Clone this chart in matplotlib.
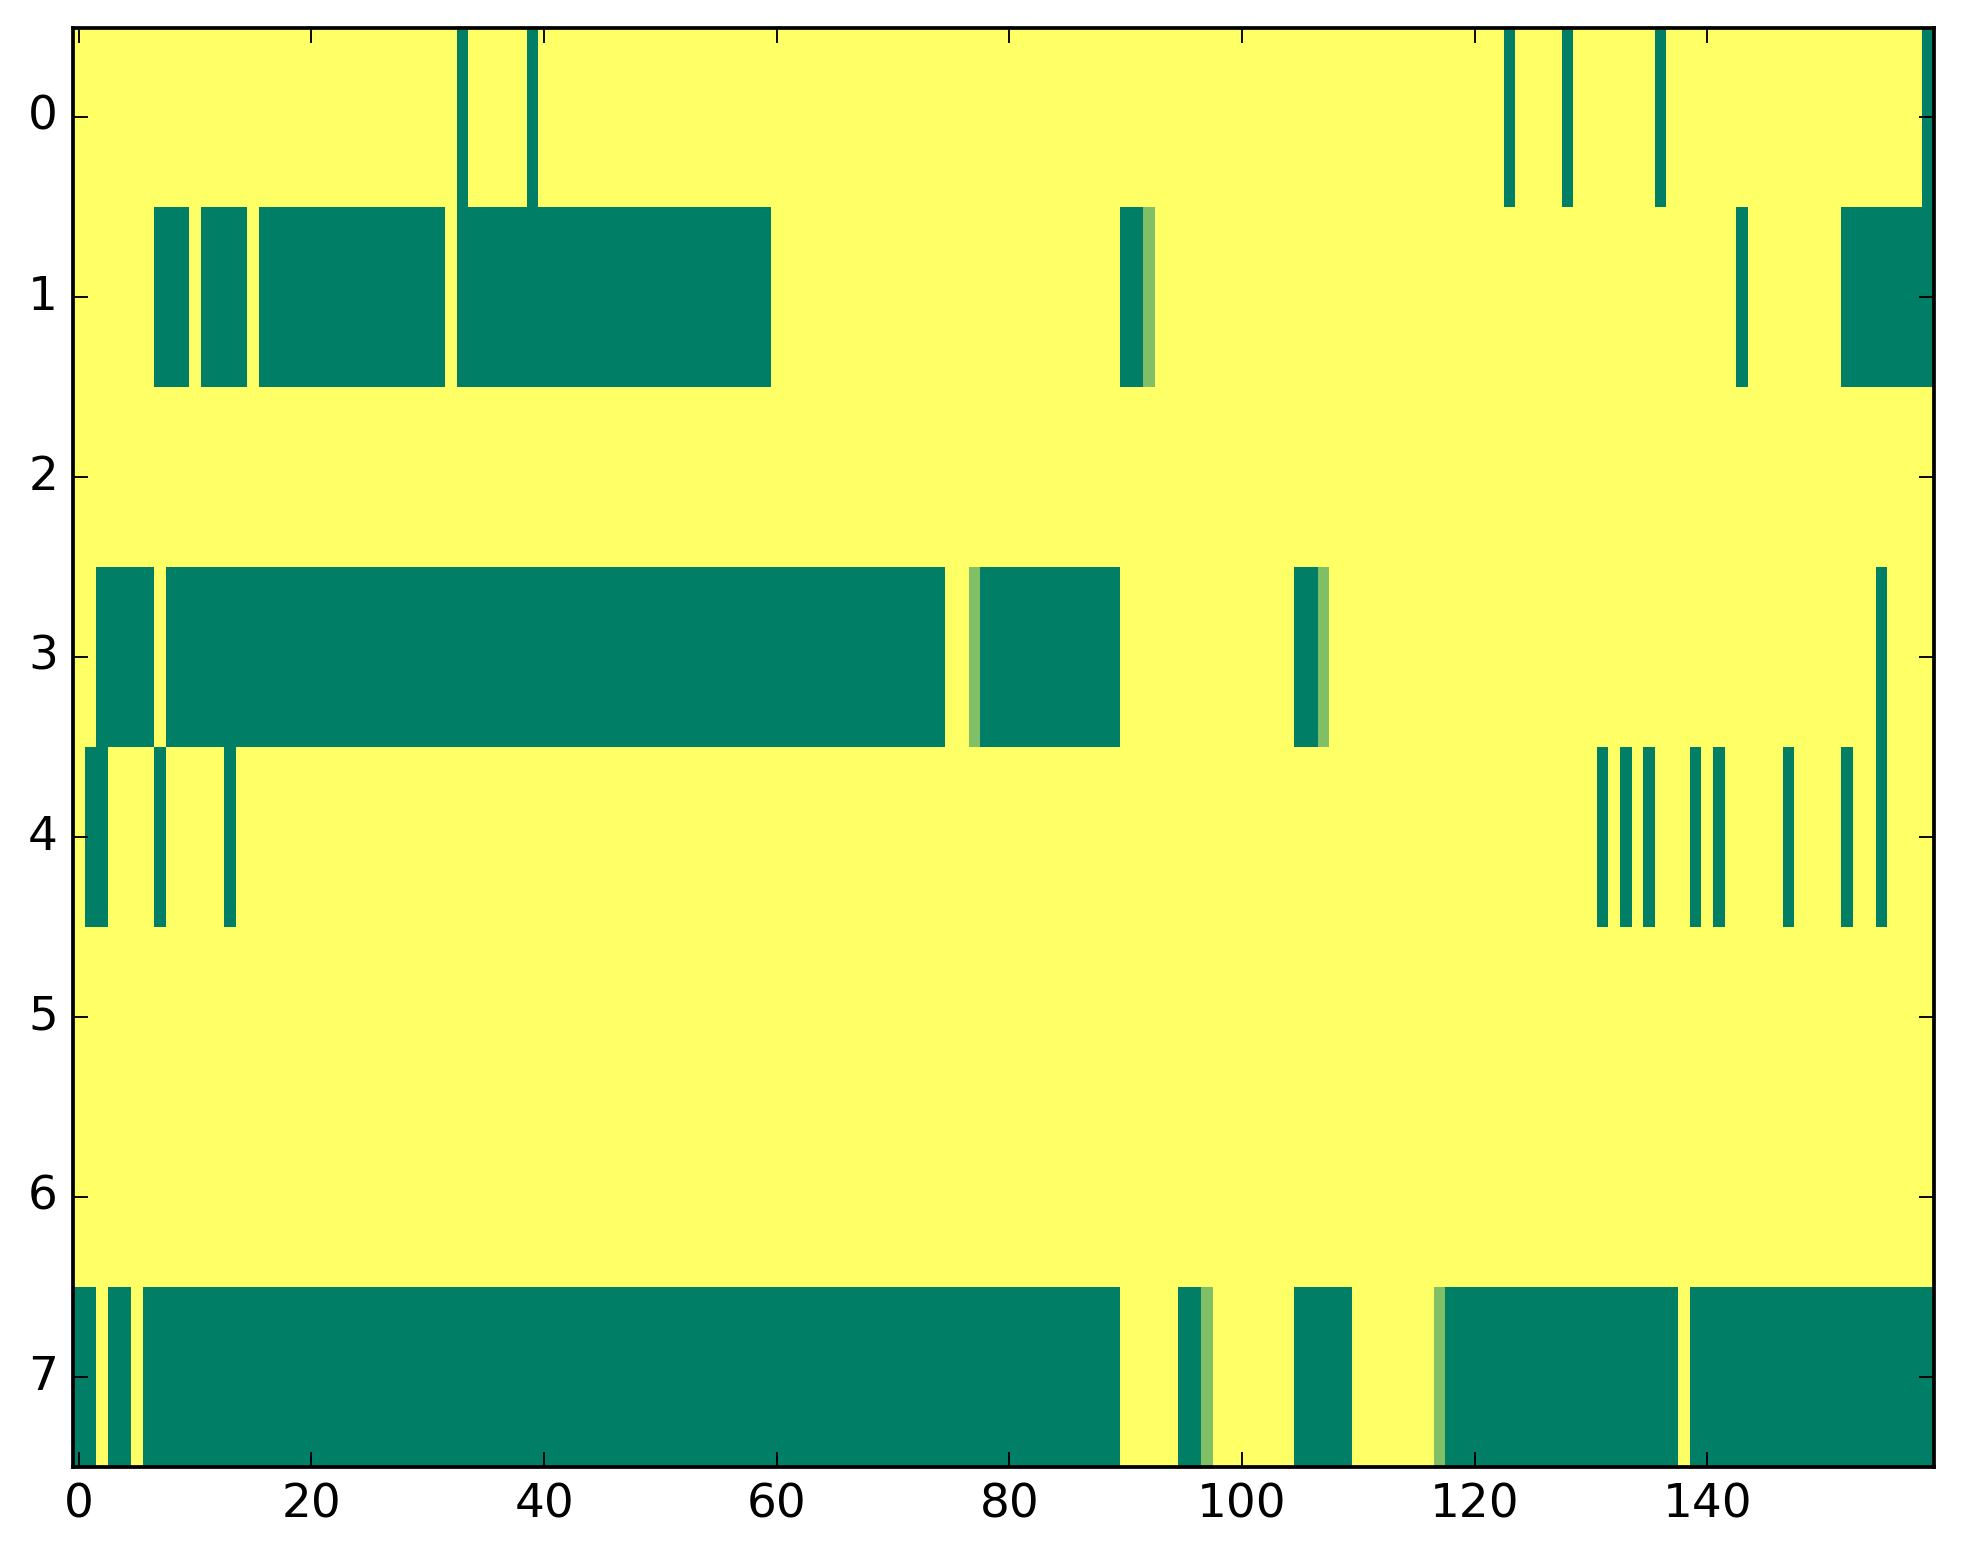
import numpy as np
import matplotlib
matplotlib.use("Agg")
import matplotlib.pyplot as plt

plt.style.use("classic")
plt.rcParams["font.family"] = ["DejaVu Sans"]

# Each row: 160 cells, grouped by 10. '0' = low (green), '1' = high (yellow), 'h' = 0.5
row0 = "1111111111 1111111111 1111111111 1110111110 1111111111 1111111111 1111111111 1111111111 " \
       "1111111111 1111111111 1111111111 1111111111 1110111101 1111110111 1111111111 1111111110"
row1 = "1111111000 1000010000 0000000000 0010000000 0000000000 0000000000 1111111111 1111111111 " \
       "1111111111 00h1111111 1111111111 1111111111 1111111111 1111111111 1110111111 1100000000"
row2 = "1111111111 1111111111 1111111111 1111111111 1111111111 1111111111 1111111111 1111111111 " \
       "1111111111 1111111111 1111111111 1111111111 1111111111 1111111111 1111111111 1111111111"
row3 = "1100000100 0000000000 0000000000 0000000000 0000000000 0000000000 0000000000 0000011h00 " \
       "0000000000 1111111111 1111100h11 1111111111 1111111111 1111111111 1111111111 1111101111"
row4 = "1001111011 1110111111 1111111111 1111111111 1111111111 1111111111 1111111111 1111111111 " \
       "1111111111 1111111111 1111111111 1111111111 1111111111 1010101110 1011111011 1101101111"
row5 = "1111111111 1111111111 1111111111 1111111111 1111111111 1111111111 1111111111 1111111111 " \
       "1111111111 1111111111 1111111111 1111111111 1111111111 1111111111 1111111111 1111111111"
row6 = "1111111111 1111111111 1111111111 1111111111 1111111111 1111111111 1111111111 1111111111 " \
       "1111111111 1111111111 1111111111 1111111111 1111111111 1111111111 1111111111 1111111111"
row7 = "0010010000 0000000000 0000000000 0000000000 0000000000 0000000000 0000000000 0000000000 " \
       "0000000000 1111100h11 1111100000 1111111h00 0000000000 0000000010 0000000000 0000000000"

rows = [row0, row1, row2, row3, row4, row5, row6, row7]
code = {"0": 0.0, "1": 1.0, "h": 0.5}
data = np.array([[code[c] for c in r.replace(" ", "")] for r in rows])

fig = plt.figure(figsize=(1963 / 270, 1564 / 270), dpi=270, facecolor="white")
ax = fig.add_axes([73 / 1963, 1 - 1467 / 1564, (1934 - 73) / 1963, (1467 - 27.5) / 1564])
ax.imshow(data, cmap="summer", vmin=0, vmax=1, aspect="auto", interpolation="nearest")
ax.set_yticks(range(8))
ax.set_xticks(range(0, 160, 20))
ax.tick_params(labelsize=12.5, direction="in", top=True, right=True, length=4, width=0.5)
for s in ax.spines.values():
    s.set_linewidth(1.0)

fig.savefig("out.png", dpi=270, facecolor="white")
